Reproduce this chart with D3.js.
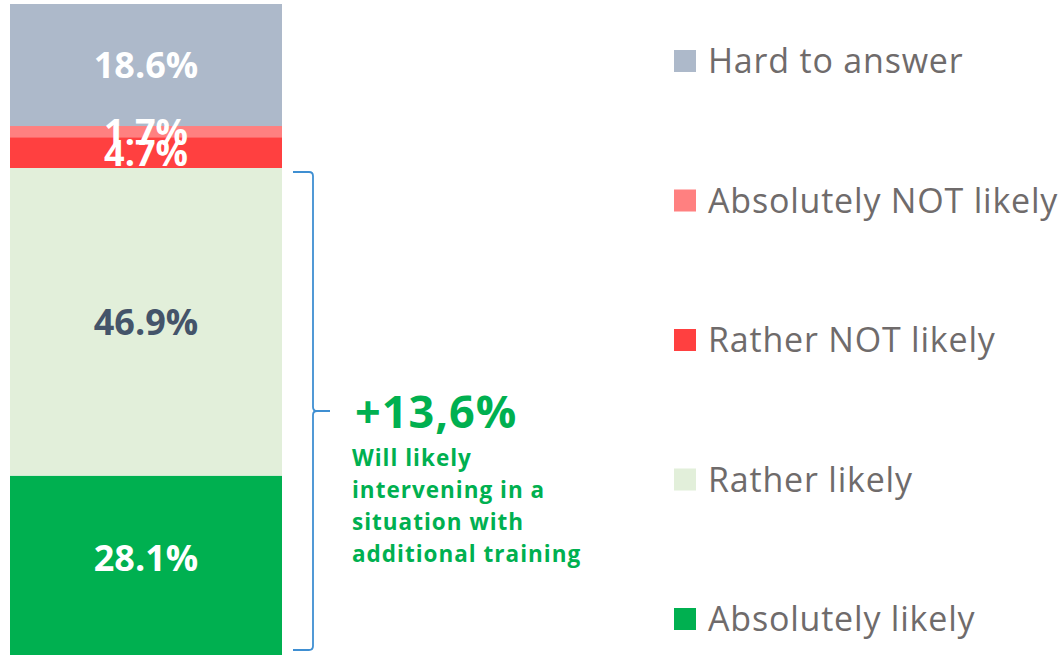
<!DOCTYPE html>
<html>
<head>
<meta charset="utf-8">
<script src="https://cdn.jsdelivr.net/npm/d3@7"></script>
<style>
  body { margin: 0; background: #fff; }
  svg { display: block; }
</style>
</head>
<body>
<div id="chart"></div>
<script>
// categories from bottom to top of the stacked bar
var categories = ["Absolutely likely", "Rather likely", "Rather NOT likely", "Absolutely NOT likely", "Hard to answer"];
var values = [28.1, 46.9, 4.7, 1.7, 18.6];
var colors = ["#00B050", "#E2EFDA", "#FF4040", "#FF8080", "#ADB9CA"];
var labelColors = ["#ffffff", "#44546A", "#ffffff", "#ffffff", "#ffffff"];
// legend reads top to bottom
var legendOrder = ["Hard to answer", "Absolutely NOT likely", "Rather NOT likely", "Rather likely", "Absolutely likely"];
var noteValue = "+13,6%";
var noteLines = ["Will likely", "intervening in a", "situation with", "additional training"];

var width = 1061, height = 655;
var font = "'Open Sans', 'Noto Sans', sans-serif";

var svg = d3.select("#chart").append("svg")
  .attr("width", width)
  .attr("height", height);

var row = {};
categories.forEach(function(c, i) { row[c] = values[i]; });
var series = d3.stack().keys(categories)([row]);

var x = d3.scaleBand().domain(["all"]).range([10, 282]).padding(0);
var y = d3.scaleLinear().domain([0, 100]).range([660, 4]);

// bar segments
svg.selectAll("rect.seg")
  .data(series)
  .enter().append("rect")
    .attr("class", "seg")
    .attr("x", x("all"))
    .attr("width", x.bandwidth())
    .attr("y", function(d) { return y(d[0][1]); })
    .attr("height", function(d) { return y(d[0][0]) - y(d[0][1]); })
    .attr("fill", function(d, i) { return colors[i]; });

// value labels, centred on the visible part of each segment
var visTop = 4, visBot = 640;
svg.selectAll("text.val")
  .data(series)
  .enter().append("text")
    .attr("class", "val")
    .attr("x", x("all") + x.bandwidth() / 2)
    .attr("y", function(d) {
      var a = Math.max(y(d[0][1]), visTop), b = Math.min(y(d[0][0]), visBot);
      return (a + b) / 2;
    })
    .attr("dy", "0.36em")
    .attr("text-anchor", "middle")
    .style("font-family", font)
    .style("font-weight", "bold")
    .style("font-size", "36px")
    .attr("fill", function(d, i) { return labelColors[i]; })
    .text(function(d, i) { return values[i].toFixed(1) + "%"; });

// curly bracket around the "likely" segments
var bTop = y(values[0] + values[1]) + 4, bBot = 650, bx = 313;
var bMid = (bTop + bBot) / 2;
var p = d3.path();
p.moveTo(293, bTop);
p.lineTo(bx - 4, bTop);
p.quadraticCurveTo(bx, bTop, bx, bTop + 4);
p.lineTo(bx, bMid - 4);
p.quadraticCurveTo(bx, bMid, bx + 4, bMid);
p.lineTo(bx + 17, bMid);
p.moveTo(bx + 4, bMid);
p.quadraticCurveTo(bx, bMid, bx, bMid + 4);
p.lineTo(bx, bBot - 4);
p.quadraticCurveTo(bx, bBot, bx - 4, bBot);
p.lineTo(293, bBot);
svg.append("path")
  .attr("d", p.toString())
  .attr("fill", "none")
  .attr("stroke", "#3F8FD2")
  .attr("stroke-width", 1.8);

// annotation
svg.append("text")
  .attr("x", 355)
  .attr("y", 428)
  .style("font-family", font)
  .style("font-weight", "bold")
  .style("font-size", "45px")
  .style("letter-spacing", "1px")
  .attr("fill", "#00B050")
  .text(noteValue);

svg.selectAll("text.note")
  .data(noteLines)
  .enter().append("text")
    .attr("class", "note")
    .attr("x", 352)
    .attr("y", function(d, i) { return 466 + i * 32; })
    .style("font-family", font)
    .style("font-weight", "bold")
    .style("font-size", "22.5px")
    .style("letter-spacing", "1px")
    .attr("fill", "#00B050")
    .text(function(d) { return d; });

// legend
var ly = d3.scalePoint().domain(legendOrder).range([61, 619]);
var leg = svg.selectAll("g.leg")
  .data(legendOrder)
  .enter().append("g")
    .attr("class", "leg")
    .attr("transform", function(d) { return "translate(674," + ly(d) + ")"; });

leg.append("rect")
  .attr("x", 0)
  .attr("y", -11)
  .attr("width", 22)
  .attr("height", 22)
  .attr("fill", function(d) { return colors[categories.indexOf(d)]; });

leg.append("text")
  .attr("x", 34)
  .attr("dy", "0.36em")
  .style("font-family", font)
  .style("font-size", "34px")
  .style("letter-spacing", "0.8px")
  .attr("fill", "#6F6B6B")
  .text(function(d) { return d; });
</script>
</body>
</html>
